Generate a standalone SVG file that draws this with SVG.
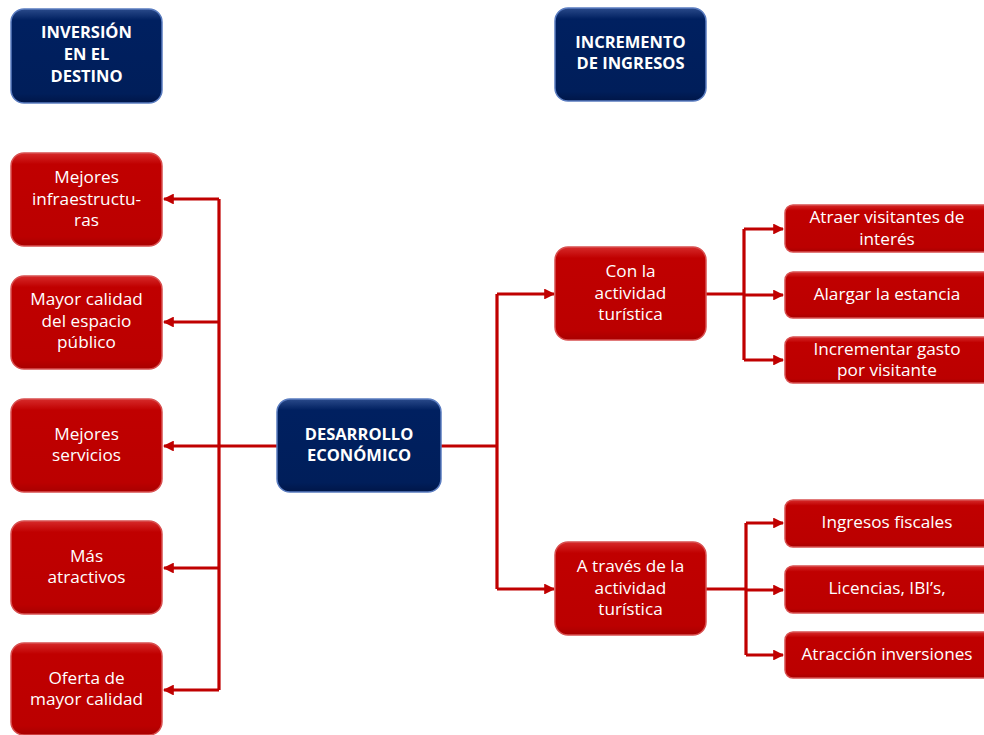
<svg xmlns="http://www.w3.org/2000/svg" width="984" height="735" viewBox="0 0 984 735">
<style>
.t{font-family:"Open Sans","Liberation Sans",sans-serif;font-size:17.2px;fill:#fff;text-anchor:middle}
.b{font-family:"Open Sans","Liberation Sans",sans-serif;font-size:16.5px;font-weight:bold;fill:#fff;text-anchor:middle}
.red{fill:url(#gr);stroke:#d85050;stroke-width:1.5}
.navy{fill:url(#gn);stroke:#5a7cc0;stroke-width:1.5}
.c{fill:none;stroke:#C00000;stroke-width:3.2}
.a{fill:none;stroke:#C00000;stroke-width:3.2;marker-end:url(#ar)}
</style>
<defs>
<linearGradient id="gr" x1="0" y1="0" x2="0" y2="1">
<stop offset="0" stop-color="#d62a2a"/><stop offset="0.12" stop-color="#c00000"/><stop offset="0.9" stop-color="#bb0000"/><stop offset="1" stop-color="#a80000"/>
</linearGradient>
<linearGradient id="gn" x1="0" y1="0" x2="0" y2="1">
<stop offset="0" stop-color="#2a4a8a"/><stop offset="0.12" stop-color="#002060"/><stop offset="0.9" stop-color="#001e5a"/><stop offset="1" stop-color="#001648"/>
</linearGradient>
<marker id="ar" viewBox="0 0 10 10" refX="9" refY="5" markerWidth="3.4" markerHeight="3.4" orient="auto" markerUnits="strokeWidth">
<path d="M0,0 L10,5 L0,10 z" fill="#C00000"/>
</marker>
</defs>

<g id="connectors">
<path class="c" d="M277,446 H219 M219,199 V690"/>
<path class="a" d="M219,199 H164"/>
<path class="a" d="M219,322 H164"/>
<path class="a" d="M219,446 H164"/>
<path class="a" d="M219,568 H164"/>
<path class="a" d="M219,690 H164"/>
<path class="c" d="M441,446 H497 M497,294 V589"/>
<path class="a" d="M497,294 H554"/>
<path class="a" d="M497,589 H554"/>
<path class="c" d="M706,294 H744 M744,229 V360"/>
<path class="a" d="M744,229 H783"/>
<path class="a" d="M744,295 H783"/>
<path class="a" d="M744,360 H783"/>
<path class="c" d="M706,589 H746 M746,523 V655"/>
<path class="a" d="M746,523 H783"/>
<path class="a" d="M746,590 H783"/>
<path class="a" d="M746,655 H783"/>
</g>

<g id="n-inversion">
<rect class="navy" x="11" y="9" width="151" height="94" rx="13"/>
<text class="b" x="86.5" y="38">INVERSIÓN</text>
<text class="b" x="86.5" y="60">EN EL</text>
<text class="b" x="86.5" y="82">DESTINO</text>
</g>
<g id="n-incremento">
<rect class="navy" x="555" y="8" width="151" height="93" rx="13"/>
<text class="b" x="630.5" y="48">INCREMENTO</text>
<text class="b" x="630.5" y="69">DE INGRESOS</text>
</g>
<g id="n-desarrollo">
<rect class="navy" x="277" y="399" width="164" height="93" rx="13"/>
<text class="b" x="359" y="440">DESARROLLO</text>
<text class="b" x="359" y="461">ECONÓMICO</text>
</g>

<g id="n-infra">
<rect class="red" x="11" y="153" width="151" height="93" rx="13"/>
<text class="t" x="86.5" y="183">Mejores</text>
<text class="t" x="86.5" y="205">infraestructu-</text>
<text class="t" x="86.5" y="226">ras</text>
</g>
<g id="n-espacio">
<rect class="red" x="11" y="276" width="151" height="93" rx="13"/>
<text class="t" x="86.5" y="305">Mayor calidad</text>
<text class="t" x="86.5" y="327">del espacio</text>
<text class="t" x="86.5" y="348">público</text>
</g>
<g id="n-servicios">
<rect class="red" x="11" y="399" width="151" height="93" rx="13"/>
<text class="t" x="86.5" y="440">Mejores</text>
<text class="t" x="86.5" y="461">servicios</text>
</g>
<g id="n-atractivos">
<rect class="red" x="11" y="521" width="151" height="93" rx="13"/>
<text class="t" x="86.5" y="562">Más</text>
<text class="t" x="86.5" y="583">atractivos</text>
</g>
<g id="n-oferta">
<rect class="red" x="11" y="643" width="151" height="92" rx="13"/>
<text class="t" x="86.5" y="684">Oferta de</text>
<text class="t" x="86.5" y="705">mayor calidad</text>
</g>

<g id="n-con">
<rect class="red" x="555" y="247" width="151" height="93" rx="13"/>
<text class="t" x="630.5" y="277">Con la</text>
<text class="t" x="630.5" y="299">actividad</text>
<text class="t" x="630.5" y="320">turística</text>
</g>
<g id="n-traves">
<rect class="red" x="555" y="542" width="151" height="93" rx="13"/>
<text class="t" x="630.5" y="572">A través de la</text>
<text class="t" x="630.5" y="594">actividad</text>
<text class="t" x="630.5" y="615">turística</text>
</g>

<g id="n-atraer">
<rect class="red" x="785" y="205" width="210" height="47" rx="8"/>
<text class="t" x="887" y="223">Atraer visitantes de</text>
<text class="t" x="887" y="245">interés</text>
</g>
<g id="n-alargar">
<rect class="red" x="785" y="272" width="210" height="46" rx="8"/>
<text class="t" x="887" y="300">Alargar la estancia</text>
</g>
<g id="n-gasto">
<rect class="red" x="785" y="337" width="210" height="46" rx="8"/>
<text class="t" x="887" y="355">Incrementar gasto</text>
<text class="t" x="887" y="376">por visitante</text>
</g>
<g id="n-fiscales">
<rect class="red" x="785" y="500" width="210" height="47" rx="8"/>
<text class="t" x="887" y="528">Ingresos fiscales</text>
</g>
<g id="n-licencias">
<rect class="red" x="785" y="566" width="210" height="47" rx="8"/>
<text class="t" x="887" y="594">Licencias, IBI’s,</text>
</g>
<g id="n-atraccion">
<rect class="red" x="785" y="632" width="210" height="46" rx="8"/>
<text class="t" x="887" y="660">Atracción inversiones</text>
</g>
</svg>
